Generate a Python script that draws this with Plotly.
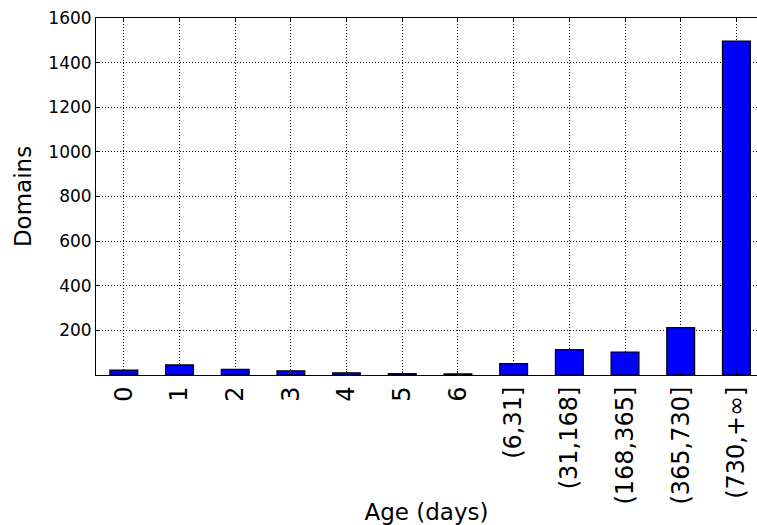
import plotly.graph_objects as go

categories = ["0", "1", "2", "3", "4", "5", "6", "(6,31]", "(31,168]",
              "(168,365]", "(365,730]", "(730,+\u221e]"]
domains = [22, 45, 25, 19, 10, 6, 5, 51, 114, 103, 212, 1497]
y_ticks = [200, 400, 600, 800, 1000, 1200, 1400, 1600]

fig = go.Figure(go.Bar(
    x=list(range(len(categories))),
    y=domains,
    width=0.5,
    marker=dict(color="#0000ff", line=dict(color="black", width=1.2)),
    hoverinfo="skip",
))

font = "DejaVu Sans"
fig.update_layout(
    width=757, height=525,
    margin=dict(l=96, r=0, t=18, b=150),
    plot_bgcolor="white", paper_bgcolor="white",
    showlegend=False,
    font=dict(family=font, color="black"),
    bargap=0,
)
fig.update_xaxes(
    automargin=False,
    range=[-0.5, 11.37],
    tickmode="array",
    tickvals=list(range(len(categories))),
    ticktext=categories,
    tickangle=-90,
    tickfont=dict(size=24, family=font),
    ticklabelstandoff=1,
    ticks="inside", ticklen=4, tickcolor="black",
    showline=True, linecolor="black", linewidth=1, mirror="ticks",
    showgrid=True, gridcolor="black", griddash="1px,2px", gridwidth=1,
    title=dict(text="Age (days)", font=dict(size=23, family=font), standoff=6),
    zeroline=False,
)
fig.update_yaxes(
    automargin=False,
    range=[0, 1600],
    tickmode="array",
    tickvals=y_ticks,
    ticktext=[str(v) for v in y_ticks],
    tickfont=dict(size=17, family=font),
    ticks="inside", ticklen=4, tickcolor="black",
    showline=True, linecolor="black", linewidth=1,
    showgrid=True, gridcolor="black", griddash="1px,2px", gridwidth=1,
    title=dict(text="Domains", font=dict(size=23, family=font), standoff=10),
    zeroline=False,
)

fig.write_html(
    "out.html",
    config={"displayModeBar": False, "staticPlot": True},
    post_script="document.body.style.margin='0';document.body.style.overflow='hidden';",
)
